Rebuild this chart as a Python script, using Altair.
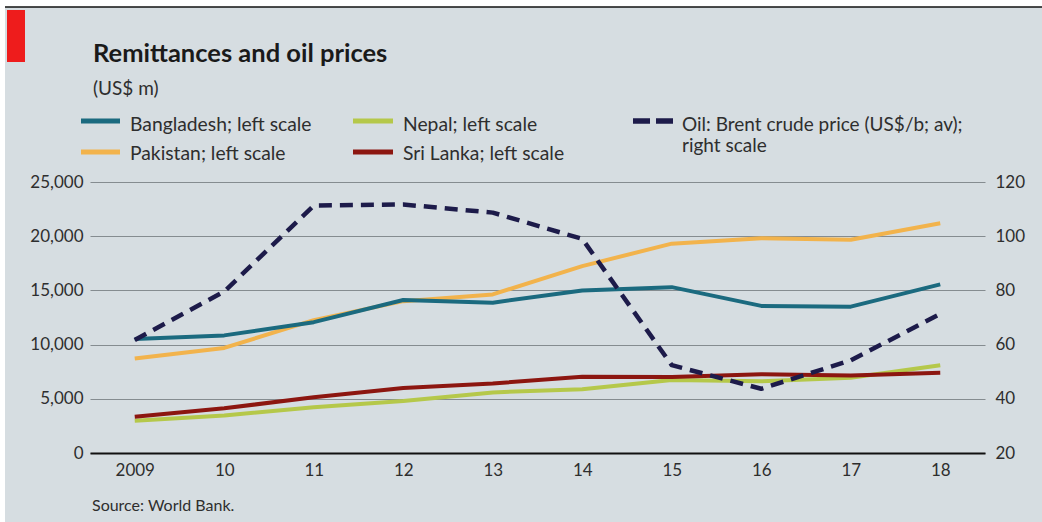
import altair as alt
import pandas as pd

years = [2009, 2010, 2011, 2012, 2013, 2014, 2015, 2016, 2017, 2018]
bangladesh = [10520, 10850, 12070, 14120, 13870, 14990, 15300, 13570, 13500, 15560]
pakistan = [8720, 9690, 12260, 14010, 14630, 17240, 19310, 19810, 19670, 21190]
nepal = [2980, 3460, 4220, 4790, 5590, 5890, 6730, 6610, 6950, 8100]
sri_lanka = [3340, 4120, 5150, 6000, 6410, 7040, 7000, 7260, 7160, 7400]
oil = [61.7, 79.6, 111.3, 111.7, 108.7, 99.0, 52.4, 43.7, 54.2, 71.3]

countries = ["Pakistan", "Nepal", "Sri Lanka", "Bangladesh"]
country_colors = ["#f2b34c", "#b5c84a", "#8c1610", "#1b6a7f"]
oil_color = "#1d1b4a"
legend_labels = {
    "Bangladesh": "Bangladesh; left scale",
    "Pakistan": "Pakistan; left scale",
    "Nepal": "Nepal; left scale",
    "Sri Lanka": "Sri Lanka; left scale",
}
oil_label = ["Oil: Brent crude price (US$/b; av);", "right scale"]
title = "Remittances and oil prices"
subtitle = "(US$ m)"
source = "Source: World Bank."
left_ticks = [0, 5000, 10000, 15000, 20000, 25000]
right_ticks = [20, 40, 60, 80, 100, 120]

FONT = "Lato"
TXT = "#2e2e2e"
BG = "#d6dde1"

series = {"Bangladesh": bangladesh, "Pakistan": pakistan, "Nepal": nepal, "Sri Lanka": sri_lanka}
rows = []
for c in countries:
    for y, v in zip(years, series[c]):
        rows.append({"year": y, "country": c, "value": v})
df = pd.DataFrame(rows)
oil_df = pd.DataFrame({"year": years, "oil": oil})

x_enc = alt.X(
    "year:Q",
    scale=alt.Scale(domain=[2008.5, 2018.5], nice=False, zero=False),
    axis=alt.Axis(
        values=years, title=None, grid=False, ticks=False,
        domain=True, domainColor="#111111", domainWidth=2.2,
        labelExpr="datum.value == 2009 ? '2009' : substring(toString(datum.value), 2)",
        labelFont=FONT, labelFontSize=17, labelColor=TXT, labelPadding=9,
        labelFlush=False,
    ),
)

lines = alt.Chart(df).mark_line(strokeWidth=4, strokeCap="butt", strokeJoin="round").encode(
    x=x_enc,
    y=alt.Y(
        "value:Q",
        scale=alt.Scale(domain=[0, 25000], nice=False),
        axis=alt.Axis(
            orient="left", values=left_ticks, format=",d", title=None,
            grid=True, gridColor="#858c90", gridWidth=1.2, ticks=False, domain=False,
            labelFont=FONT, labelFontSize=17, labelColor=TXT, labelPadding=7,
        ),
    ),
    color=alt.Color("country:N", scale=alt.Scale(domain=countries, range=country_colors), legend=None),
    order=alt.Order("year:Q"),
)

oil_line = alt.Chart(oil_df).mark_line(
    strokeWidth=4.5, strokeDash=[13, 8], color=oil_color, strokeJoin="round"
).encode(
    x=x_enc,
    y=alt.Y(
        "oil:Q",
        scale=alt.Scale(domain=[20, 120], nice=False, zero=False),
        axis=alt.Axis(
            orient="right", values=right_ticks, title=None, grid=False, ticks=False,
            domain=False, labelFont=FONT, labelFontSize=17, labelColor=TXT, labelPadding=10,
        ),
    ),
)


def text_layer(t, x, y, size, weight="normal", color=TXT):
    return alt.Chart(pd.DataFrame({"t": [t]})).mark_text(
        align="left", baseline="alphabetic", font=FONT, fontSize=size,
        fontWeight=weight, color=color,
    ).encode(x=alt.value(x), y=alt.value(y), text="t:N")


def rect_layer(x, x2, y, y2, color):
    return alt.Chart(pd.DataFrame({"a": [0]})).mark_rect(color=color).encode(
        x=alt.value(x), x2=alt.value(x2), y=alt.value(y), y2=alt.value(y2)
    )


def rule_layer(x, x2, y, color, width, dash=None):
    kw = dict(color=color, strokeWidth=width)
    if dash:
        kw["strokeDash"] = dash
    return alt.Chart(pd.DataFrame({"a": [0]})).mark_rule(**kw).encode(
        x=alt.value(x), x2=alt.value(x2), y=alt.value(y)
    )


cmap = dict(zip(countries, country_colors))
deco = [
    rect_layer(-90, 952, -182, -175, "white"),
    rule_layer(-90, 952, -175, "#111111", 1.6),
    rect_layer(-90, -85, -182, 340, "white"),
    rect_layer(-83, -65, -172, -120, "#ee1c1c"),
    text_layer(title, 3, -120, 25.5, "bold", "#1a1a1a"),
    text_layer(subtitle, 3, -87, 19),
    rule_layer(-9, 30, -61, cmap["Bangladesh"], 5),
    text_layer(legend_labels["Bangladesh"], 40, -51, 19.3),
    rule_layer(-9, 30, -30, cmap["Pakistan"], 5),
    text_layer(legend_labels["Pakistan"], 40, -22, 19.3),
    rule_layer(263, 303, -61, cmap["Nepal"], 5),
    text_layer(legend_labels["Nepal"], 313, -51, 19.3),
    rule_layer(263, 303, -30, cmap["Sri Lanka"], 5),
    text_layer(legend_labels["Sri Lanka"], 313, -22, 19.3),
    rule_layer(543, 583, -61, oil_color, 5.5, [17, 6]),
    text_layer(oil_label[0], 592, -51, 19),
    text_layer(oil_label[1], 592, -30, 19),
    text_layer(source, 2, 329, 16),
]

chart = alt.layer(lines, oil_line, *deco).resolve_scale(y="independent").properties(
    width=895,
    height=271,
    padding={"left": 90, "top": 182, "right": 57, "bottom": 69},
    autosize=alt.AutoSizeParams(type="none"),
    background=BG,
).configure_view(stroke=None)

chart.save("out.html", embed_options={"renderer": "svg", "actions": False})
